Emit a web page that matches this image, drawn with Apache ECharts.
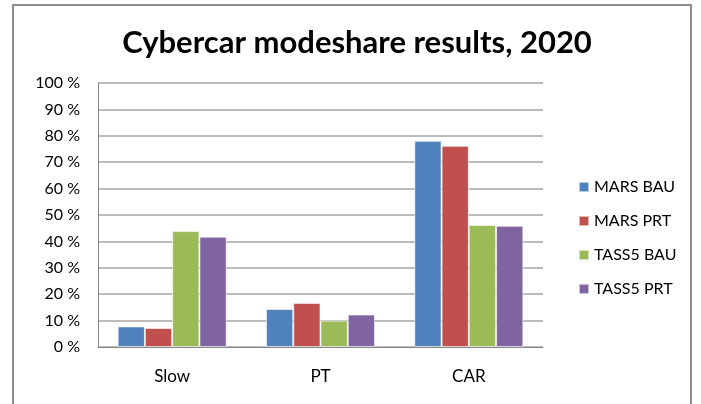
<!DOCTYPE html>
<html>
<head>
<meta charset="utf-8">
<script src="https://cdn.jsdelivr.net/npm/echarts@6/dist/echarts.min.js"></script>
<style>
  html, body { margin: 0; padding: 0; background: #fff; }
  #frame { position: absolute; left: 12px; top: 4px; width: 680px; height: 410px; border: 2px solid #8c8c8c; box-sizing: border-box; }
  #chart { position: absolute; left: 0; top: 0; width: 701px; height: 404px; }
</style>
</head>
<body>
<div id="frame"></div>
<div id="chart"></div>
<script>
// categories and mode shares (%) per scenario
const categories = ['Slow', 'PT', 'CAR'];
const seriesNames = ['MARS BAU', 'MARS PRT', 'TASS5 BAU', 'TASS5 PRT'];
const marsBau = [7.8, 14.4, 78.1];
const marsPrt = [7.2, 16.7, 76.2];
const tass5Bau = [43.9, 10.0, 46.2];
const tass5Prt = [41.8, 12.3, 45.9];
const seriesColors = ['#4F81BD', '#C0504D', '#9BBB59', '#8064A2'];

const chart = echarts.init(document.getElementById('chart'));
const font = 'Lato';

const values = [marsBau, marsPrt, tass5Bau, tass5Prt];

chart.setOption({
  animation: false,
  title: {
    text: 'Cybercar modeshare results, 2020',
    left: 352,
    top: 22,
    textAlign: 'center',
    textStyle: { fontFamily: font, fontSize: 31, fontWeight: 'bold', color: '#000' },
  },
  grid: { left: 98, right: 158, top: 83, bottom: 57, containLabel: false },
  legend: {
    orient: 'vertical',
    left: 573,
    top: 174,
    itemWidth: 10,
    itemHeight: 10,
    itemGap: 18,
    icon: 'rect',
    textStyle: { fontFamily: font, fontSize: 16, color: '#000' },
    data: seriesNames,
  },
  xAxis: {
    type: 'category',
    data: categories,
    axisLine: { lineStyle: { color: '#888', width: 1 } },
    axisTick: { show: false },
    axisLabel: { fontFamily: font, fontSize: 17, color: '#000', margin: 21 },
  },
  yAxis: {
    type: 'value',
    min: 0,
    max: 100,
    interval: 10,
    axisLine: { show: true, lineStyle: { color: '#888', width: 1 } },
    axisTick: { show: false },
    axisLabel: { fontFamily: font, fontSize: 16, color: '#000', margin: 18, formatter: v => v + ' %' },
    splitLine: { lineStyle: { color: '#a6a6a6', width: 1.5 } },
  },
  series: seriesNames.map((name, i) => ({
    name,
    type: 'bar',
    data: values[i],
    barGap: '0%',
    barCategoryGap: '26.5%',
    itemStyle: { color: seriesColors[i], borderColor: 'rgba(255,255,255,0.6)', borderWidth: 1 },
  })),
});
</script>
</body>
</html>
